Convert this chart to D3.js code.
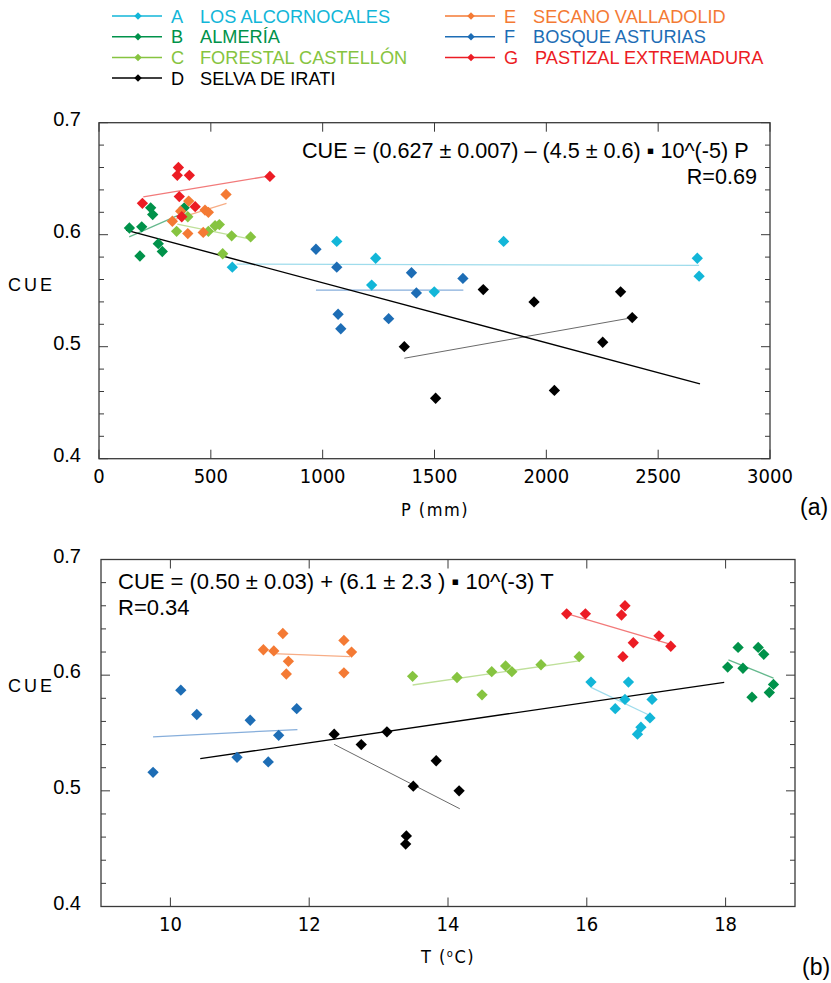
<!DOCTYPE html>
<html lang="es">
<head>
  <meta charset="UTF-8">
  <title>CUE vs P y T</title>
  <script src="https://d3js.org/d3.v7.min.js"></script>
  <style>
    body { margin: 0; background: #fff; }
    text { font-family: "Liberation Sans", Arial, sans-serif; }
    .narrow { font-family: "Liberation Sans Narrow", "Arial Narrow", "DejaVu Sans Condensed", sans-serif; }
  </style>
</head>
<body>
  <div id="root"></div>
  <script>
    // sitios
    const siteCodes = ['A', 'B', 'C', 'D', 'E', 'F', 'G']
    const siteNames = ['LOS ALCORNOCALES', 'ALMERÍA', 'FORESTAL CASTELLÓN', 'SELVA DE IRATI',
      'SECANO VALLADOLID', 'BOSQUE ASTURIAS', 'PASTIZAL EXTREMADURA']
    const siteColors = ['#12b6d8', '#00924a', '#86c440', '#000000', '#f47a34', '#1d6db5', '#ec1c24']
    const fitColors = ['#9fdcec', '#66b98e', '#bfe09a', '#6a6a6a', '#f7ad86', '#86aedb', '#f27a7a']

    // CUE, P (mm) y T (ºC) de cada sitio, en el mismo orden
    const cueValues = [
      [0.594, 0.594, 0.579, 0.579, 0.571, 0.563, 0.555, 0.549],
      [0.624, 0.624, 0.618, 0.607, 0.606, 0.592, 0.585, 0.581],
      [0.616, 0.609, 0.608, 0.603, 0.603, 0.599, 0.598, 0.583],
      [0.551, 0.549, 0.540, 0.526, 0.504, 0.500, 0.461, 0.454],
      [0.636, 0.630, 0.622, 0.621, 0.620, 0.612, 0.602, 0.601],
      [0.587, 0.571, 0.566, 0.561, 0.548, 0.529, 0.525, 0.516],
      [0.660, 0.653, 0.653, 0.652, 0.634, 0.628, 0.625, 0.616]
    ]
    const pValues = [
      [1063, 1809, 1237, 2675, 596, 2683, 1219, 1499],
      [231, 381, 240, 191, 136, 265, 283, 183],
      [397, 538, 519, 347, 489, 593, 678, 553],
      [1718, 2332, 1945, 2384, 2252, 1365, 2036, 1505],
      [568, 401, 474, 365, 489, 328, 466, 397],
      [970, 1063, 1397, 1627, 1419, 1069, 1295, 1081],
      [355, 404, 350, 764, 359, 194, 430, 370]
    ]
    const tValues = [
      [16.06, 16.60, 16.55, 16.94, 16.41, 16.91, 16.78, 16.73],
      [18.18, 18.47, 18.55, 18.03, 18.25, 18.69, 18.63, 18.38],
      [15.89, 15.34, 14.83, 14.63, 14.92, 13.49, 14.13, 14.49],
      [13.12, 12.36, 12.75, 13.83, 13.50, 14.16, 13.40, 13.39],
      [11.62, 12.50, 11.34, 11.49, 12.61, 11.70, 12.50, 11.67],
      [10.15, 11.82, 10.38, 11.15, 11.56, 10.96, 11.41, 9.75],
      [16.55, 15.71, 15.98, 16.50, 17.04, 16.67, 17.21, 16.52]
    ]

    // rectas de ajuste por sitio: extremos [x1, x2] y [cue1, cue2]
    const fitP = [[615, 2683], [135, 384], [350, 683], [1365, 2384], [328, 570], [970, 1629], [198, 764]]
    const fitPcue = [[0.5738, 0.5726], [0.598, 0.620], [0.6094, 0.5958], [0.4897, 0.5259],
      [0.613, 0.628], [0.5506, 0.5506], [0.6338, 0.6525]]
    const fitT = [[16.06, 16.91], [18.04, 18.69], [13.49, 15.89], [12.36, 14.17], [11.48, 12.59], [9.75, 11.83], [15.71, 17.21]]
    const fitTcue = [[0.5895, 0.5651], [0.6132, 0.5975], [0.5915, 0.6123], [0.5402, 0.4845],
      [0.6186, 0.6160], [0.5467, 0.5530], [0.6531, 0.6266]]
    // recta global
    const allP = [121, 2687], allPcue = [0.6041, 0.4668]
    const allT = [10.43, 17.98], allTcue = [0.5278, 0.5938]

    const pTicks = [0, 500, 1000, 1500, 2000, 2500, 3000]
    const tTicks = [10, 12, 14, 16, 18]
    const cueTicks = [0.4, 0.5, 0.6, 0.7]

    const svg = d3.select('#root')
      .append('svg')
      .attr('width', 831)
      .attr('height', 983)

    // leyenda
    const legend = svg.append('g')
    siteCodes.forEach((code, i) => {
      const col = i < 4 ? 0 : 1
      const row = i < 4 ? i : i - 4
      const lx = col === 0 ? 112 : 445
      const y = 16 + row * 20.7
      const g = legend.append('g').attr('transform', `translate(${lx},${y})`)
      g.append('line').attr('x1', 0).attr('x2', 50).attr('stroke', siteColors[i]).attr('stroke-width', 1.5)
      g.append('path').attr('d', d3.symbol(d3.symbolSquare, 28)())
        .attr('transform', 'translate(26,0) rotate(45)').attr('fill', siteColors[i])
      g.append('text').attr('x', 59).attr('y', 6.5).attr('font-size', 18.2).attr('fill', siteColors[i]).text(code)
      g.append('text').attr('x', code === 'G' ? 90 : 88).attr('y', 6.5)
        .attr('font-size', 18.2).attr('fill', siteColors[i]).text(siteNames[i])
    })

    function panel(opts) {
      const x = d3.scaleLinear().domain(opts.xDomain).range([opts.left, opts.right])
      const y = d3.scaleLinear().domain([0.4, 0.7]).range([opts.bottom, opts.top])
      const g = svg.append('g')

      // marco
      g.append('rect')
        .attr('x', opts.left).attr('y', opts.top)
        .attr('width', opts.right - opts.left).attr('height', opts.bottom - opts.top)
        .attr('fill', 'none').attr('stroke', '#3a3a3a').attr('stroke-width', 1.3)

      // marcas en los cuatro lados, hacia dentro
      const yMinor = d3.range(0.40, 0.7001, 0.02)
      yMinor.forEach(v => {
        const major = Math.abs(v * 10 - Math.round(v * 10)) < 1e-6
        const len = major ? 9 : 5
        g.append('line').attr('x1', opts.left).attr('x2', opts.left + len)
          .attr('y1', y(v)).attr('y2', y(v)).attr('stroke', '#3a3a3a').attr('stroke-width', 1)
        g.append('line').attr('x1', opts.right).attr('x2', opts.right - len)
          .attr('y1', y(v)).attr('y2', y(v)).attr('stroke', '#3a3a3a').attr('stroke-width', 1)
      })
      opts.xTicks.forEach(v => {
        g.append('line').attr('x1', x(v)).attr('x2', x(v))
          .attr('y1', opts.bottom).attr('y2', opts.bottom - 9).attr('stroke', '#3a3a3a').attr('stroke-width', 1)
        g.append('line').attr('x1', x(v)).attr('x2', x(v))
          .attr('y1', opts.top).attr('y2', opts.top + 9).attr('stroke', '#3a3a3a').attr('stroke-width', 1)
      })

      // etiquetas
      g.selectAll('.ylab').data(cueTicks).join('text')
        .attr('x', 81).attr('y', d => y(d) + 3)
        .attr('text-anchor', 'end').attr('font-size', 20).text(d => d.toFixed(1))
      g.selectAll('.xlab').data(opts.xTicks).join('text')
        .attr('class', 'narrow')
        .attr('x', d => x(d)).attr('y', opts.bottom + 24)
        .attr('text-anchor', 'middle').attr('font-size', 20).text(d => d)
      g.append('text').attr('x', 8).attr('y', opts.cueY)
        .attr('font-size', 18).attr('letter-spacing', 3).text('CUE')

      // rectas de ajuste
      opts.fitX.forEach((fx, i) => {
        g.append('line')
          .attr('x1', x(fx[0])).attr('x2', x(fx[1]))
          .attr('y1', y(opts.fitY[i][0])).attr('y2', y(opts.fitY[i][1]))
          .attr('stroke', fitColors[i]).attr('stroke-width', i === 3 ? 1 : 1.3)
      })
      g.append('line')
        .attr('x1', x(opts.allX[0])).attr('x2', x(opts.allX[1]))
        .attr('y1', y(opts.allY[0])).attr('y2', y(opts.allY[1]))
        .attr('stroke', '#000').attr('stroke-width', 1.4)

      // puntos
      const diamond = d3.symbol(d3.symbolSquare, 64)()
      siteCodes.forEach((code, i) => {
        g.selectAll('.pt' + code).data(opts.xValues[i]).join('path')
          .attr('d', diamond)
          .attr('transform', (d, j) => `translate(${x(d)},${y(cueValues[i][j])}) rotate(45)`)
          .attr('fill', siteColors[i])
      })
      return { x, y, g }
    }

    const panelP = panel({
      xDomain: [0, 3000], left: 99, right: 770, top: 122.7, bottom: 458.7,
      xTicks: pTicks, xValues: pValues, fitX: fitP, fitY: fitPcue,
      allX: allP, allY: allPcue, cueY: 291
    })
    panelP.g.append('text').attr('x', 302).attr('y', 158).attr('font-size', 21.6)
      .text('CUE = (0.627 ± 0.007) – (4.5 ± 0.6) ▪ 10^(-5) P')
    panelP.g.append('text').attr('x', 757).attr('y', 184).attr('font-size', 21.6)
      .attr('text-anchor', 'end').text('R=0.69')
    panelP.g.append('text').attr('class', 'narrow').attr('x', 435).attr('y', 516)
      .attr('text-anchor', 'middle').attr('font-size', 18).attr('letter-spacing', 1.5).text('P  (mm)')
    panelP.g.append('text').attr('x', 800).attr('y', 515)
      .attr('font-family', 'Liberation Serif, Times New Roman, serif').attr('font-size', 23).text('(a)')

    const panelT = panel({
      xDomain: [9, 19], left: 101, right: 795, top: 559.5, bottom: 906.5,
      xTicks: tTicks, xValues: tValues, fitX: fitT, fitY: fitTcue,
      allX: allT, allY: allTcue, cueY: 692
    })
    panelT.g.append('text').attr('x', 118).attr('y', 589).attr('font-size', 22)
      .text('CUE = (0.50 ± 0.03) + (6.1 ± 2.3 ) ▪ 10^(-3) T')
    panelT.g.append('text').attr('x', 118).attr('y', 615).attr('font-size', 22).text('R=0.34')
    const tl = panelT.g.append('text').attr('class', 'narrow').attr('x', 448).attr('y', 963)
      .attr('text-anchor', 'middle').attr('font-size', 18).attr('letter-spacing', 1.5)
    tl.append('tspan').text('T (')
    tl.append('tspan').attr('font-size', 11).attr('dy', -6).text('o')
    tl.append('tspan').attr('dy', 6).text('C)')
    panelT.g.append('text').attr('x', 802).attr('y', 975)
      .attr('font-family', 'Liberation Serif, Times New Roman, serif').attr('font-size', 23).text('(b)')
  </script>
</body>
</html>
